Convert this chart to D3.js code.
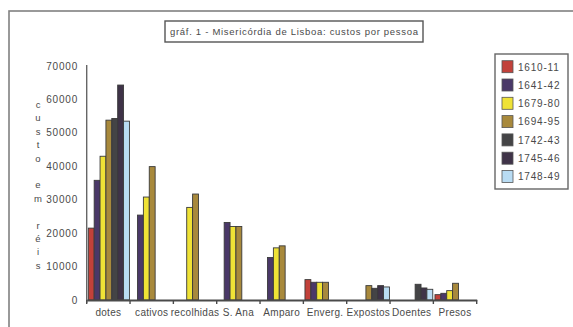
<!DOCTYPE html>
<html>
<head>
<meta charset="utf-8">
<title>gráf. 1 - Misericórdia de Lisboa</title>
<script src="https://d3js.org/d3.v7.min.js"></script>
<style>
html, body { margin: 0; padding: 0; background: #fff; }
svg { display: block; }
text { font-family: "Liberation Sans", Arial, sans-serif; fill: #4a4a4a; }
</style>
</head>
<body>
<script>
var width = 573, height = 327;

// categories on the x axis
var categories = ["dotes", "cativos", "recolhidas", "S. Ana", "Amparo", "Enverg.", "Expostos", "Doentes", "Presos"];
// periods (legend)
var periods = ["1610-11", "1641-42", "1679-80", "1694-95", "1742-43", "1745-46", "1748-49"];
var colors = ["#c2413a", "#4a3868", "#efe236", "#a8893c", "#444446", "#3f3348", "#b9dcf3"];

// cost per person, one array per period (null = no bar)
var v1610 = [21500, null, null, null, null, 6100, null, null, 1600];
var v1641 = [35800, 25400, null, 23200, 12700, 5300, null, null, 2000];
var v1679 = [43000, 30800, 27700, 22000, 15600, 5300, null, null, 2800];
var v1694 = [53800, 39900, 31700, 22000, 16200, 5300, 4300, null, 5000];
var v1742 = [54300, null, null, null, null, null, 3500, 4700, null];
var v1745 = [64300, null, null, null, null, null, 4300, 3600, null];
var v1748 = [53500, null, null, null, null, null, 3900, 3200, null];
var series = [v1610, v1641, v1679, v1694, v1742, v1745, v1748];

var yTicks = [0, 10000, 20000, 30000, 40000, 50000, 60000, 70000];
var yLabel = ["c", "u", "s", "t", "o", "", "e", "m", "", "r", "é", "i", "s"];

var svg = d3.select("body").append("svg")
    .attr("width", width)
    .attr("height", height);

// outer frame (runs off the right and bottom)
svg.append("rect")
    .attr("x", 9).attr("y", 11)
    .attr("width", 600).attr("height", 400)
    .attr("fill", "none")
    .attr("stroke", "#808080")
    .attr("stroke-width", 1.6);

// title box
svg.append("rect")
    .attr("x", 165).attr("y", 21)
    .attr("width", 258).attr("height", 21)
    .attr("fill", "#fff")
    .attr("stroke", "#555")
    .attr("stroke-width", 1.4);
svg.append("text")
    .attr("x", 294).attr("y", 35)
    .attr("text-anchor", "middle")
    .attr("font-size", 9.5)
    .attr("textLength", 248)
    .text("gráf. 1 - Misericórdia de Lisboa: custos por pessoa");

var x0 = d3.scaleBand().domain(categories).range([86.7, 476.7]).padding(0);
var x1 = d3.scaleBand().domain(periods).range([1.6, x0.bandwidth() - 0.6]).padding(0);
var y = d3.scaleLinear().domain([0, 70000]).range([300, 66]);

// y axis: line + labels, no ticks
svg.append("line")
    .attr("x1", 86.7).attr("x2", 86.7)
    .attr("y1", y(70000) - 1).attr("y2", y(0) + 3)
    .attr("stroke", "#666").attr("stroke-width", 1.4);

svg.append("g").selectAll("text")
    .data(yTicks)
    .join("text")
    .attr("x", 78)
    .attr("y", function(d) { return y(d) + 3.5; })
    .attr("text-anchor", "end")
    .attr("font-size", 10)
    .attr("letter-spacing", 0.8)
    .text(function(d) { return d; });

// vertical axis title, one letter per row
svg.append("g").selectAll("text")
    .data(yLabel)
    .join("text")
    .attr("x", 38)
    .attr("y", function(d, i) { return 108 + i * 13.4; })
    .attr("text-anchor", "middle")
    .attr("font-size", 9.5)
    .text(function(d) { return d; });

// bars
var groups = svg.append("g").selectAll("g")
    .data(series)
    .join("g")
    .attr("fill", function(d, i) { return colors[i]; });

groups.selectAll("rect")
    .data(function(d, i) {
      return d.map(function(v, j) { return {cat: categories[j], per: periods[i], value: v}; })
              .filter(function(o) { return o.value != null; });
    })
    .join("rect")
    .attr("x", function(d) { return x0(d.cat) + x1(d.per); })
    .attr("width", x1.bandwidth())
    .attr("y", function(d) { return y(d.value); })
    .attr("height", function(d) { return y(0) - y(d.value); })
    .attr("stroke", "#3a3a3a")
    .attr("stroke-width", 0.9);

// x axis
var xAxis = d3.axisBottom(x0).tickSize(0).tickPadding(9);
var gx = svg.append("g")
    .attr("transform", "translate(0," + y(0) + ")")
    .call(xAxis);
gx.select(".domain").attr("stroke", "#4a4a4a").attr("stroke-width", 2.2);
gx.selectAll(".tick text")
    .attr("font-size", 10)
    .attr("letter-spacing", 0.3)
    .attr("font-family", "'Liberation Sans', Arial, sans-serif")
    .attr("fill", "#4a4a4a");

// category separator ticks
svg.append("g").selectAll("line")
    .data(categories.concat(["end"]))
    .join("line")
    .attr("x1", function(d, i) { return x0.range()[0] + i * x0.bandwidth(); })
    .attr("x2", function(d, i) { return x0.range()[0] + i * x0.bandwidth(); })
    .attr("y1", y(0)).attr("y2", y(0) + 4)
    .attr("stroke", "#4a4a4a").attr("stroke-width", 1.4);

// legend
var legend = svg.append("g");
legend.append("rect")
    .attr("x", 495).attr("y", 54)
    .attr("width", 73).attr("height", 135)
    .attr("fill", "#fff")
    .attr("stroke", "#666").attr("stroke-width", 1.4);

var items = legend.selectAll("g.item")
    .data(periods)
    .join("g")
    .attr("class", "item")
    .attr("transform", function(d, i) { return "translate(0," + (66.7 + i * 18.3) + ")"; });
items.append("rect")
    .attr("x", 502).attr("y", -6)
    .attr("width", 11).attr("height", 12)
    .attr("fill", function(d, i) { return colors[i]; })
    .attr("stroke", "#555").attr("stroke-width", 0.8);
items.append("text")
    .attr("x", 518).attr("y", 3.8)
    .attr("font-size", 10)
    .attr("letter-spacing", 0.8)
    .text(function(d) { return d; });
</script>
</body>
</html>
